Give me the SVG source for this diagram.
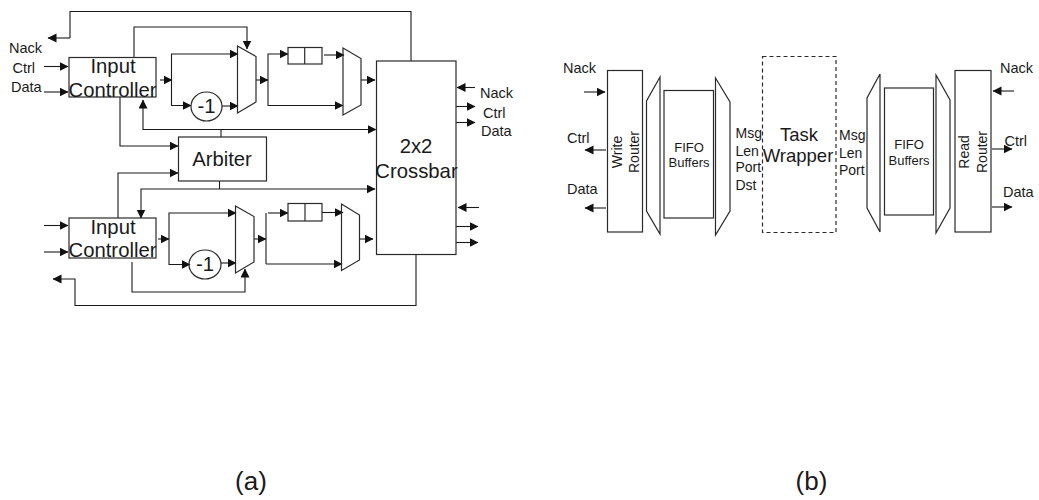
<svg xmlns="http://www.w3.org/2000/svg" width="1039" height="500" viewBox="0 0 1039 500">
<style>
text{font-family:"Liberation Sans",Arial,sans-serif;fill:#1a1a1a}
.s{font-size:14.5px}.m{font-size:14px}.f{font-size:13px;text-anchor:middle}.l{font-size:20.300px;text-anchor:middle}.w{font-size:18.500px;text-anchor:middle}.c{font-size:26px;text-anchor:middle}
.b{fill:none;stroke:#2a2a2a;stroke-width:1.2}
#connectors path{fill:none;stroke:#1a1a1a;stroke-width:1.1}
.a{marker-end:url(#arr)}
</style>
<defs><marker id="arr" markerUnits="userSpaceOnUse" markerWidth="10" markerHeight="10" refX="8.500" refY="4.500" orient="auto"><path d="M0,0L9,4.500L0,9Z" fill="#111"/></marker></defs>
<g id="connectors">
<path d="M70,38V11.500H411V61"/>
<path class="a" d="M70,38H48"/>
<path class="a" d="M134,57V27H247V49"/>
<path class="a" d="M44,66.500H68"/>
<path class="a" d="M44,92H68"/>
<path class="a" d="M160,80H172"/>
<path class="a" d="M171.500,80V54H238"/>
<path class="a" d="M171.500,80V105.500H191"/>
<path class="a" d="M222,106H238"/>
<path class="a" d="M256,80H268"/>
<path class="a" d="M268,80V54H288"/>
<path class="a" d="M268,80V105.500H343"/>
<path class="a" d="M324,55H344"/>
<path class="a" d="M361,80H375"/>
<path class="a" d="M475,87.500H457"/>
<path class="a" d="M456,106.500H475"/>
<path class="a" d="M456,122.500H475"/>
<path class="a" d="M221,129.500H143V100"/>
<path class="a" d="M221,129.500H376"/>
<path d="M221,129.500V137"/>
<path class="a" d="M120,97V146H178"/>
<path class="a" d="M118,218V173H178"/>
<path d="M219.500,181V189"/>
<path class="a" d="M219.500,189H141V218"/>
<path class="a" d="M219.500,189H375"/>
<path class="a" d="M44,225.500H68"/>
<path class="a" d="M44,252H68"/>
<path class="a" d="M158,239H169"/>
<path class="a" d="M169,239V213H236"/>
<path class="a" d="M169,239V264.500H190"/>
<path class="a" d="M221,263H236"/>
<path class="a" d="M132,262V292H245V269"/>
<path class="a" d="M416,254.500V305.500H75V279H53"/>
<path class="a" d="M254,239H266"/>
<path d="M266,213V264"/>
<path class="a" d="M268,213H288"/>
<path class="a" d="M266,264H342"/>
<path class="a" d="M322,212.500H343"/>
<path class="a" d="M359,239H373"/>
<path class="a" d="M479,207.500H458"/>
<path class="a" d="M456,226.500H478"/>
<path class="a" d="M456,242.500H478"/>
<path class="a" d="M584,92H605"/>
<path class="a" d="M606,150H585"/>
<path class="a" d="M606,208H585"/>
<path class="a" d="M1014,91H993"/>
<path class="a" d="M992,149H1012"/>
<path class="a" d="M992,207H1012"/>
</g>
<g id="labels-a">
<text class="s" x="9" y="52.500">Nack</text><text class="s" x="12.500" y="73">Ctrl</text><text class="s" x="11" y="92">Data</text>
<text class="s" x="480" y="97.500">Nack</text><text class="s" x="483" y="118">Ctrl</text><text class="s" x="481" y="135.500">Data</text>
<text class="c" x="251" y="490">(a)</text><text class="c" x="811.500" y="490">(b)</text>
</g>
<g id="input-controller-1"><rect class="b" x="69" y="57.500" width="87" height="39.500"/><text class="l" x="113" y="73">Input</text><text class="l" x="112.500" y="97">Controller</text></g>
<g id="decrement-1"><ellipse class="b" cx="206.500" cy="106.500" rx="15.500" ry="14.500"/><text class="l" x="206.500" y="113">-1</text></g>
<g id="mux-1"><polygon class="b" points="237.500,46 256,56.500 256,102 237.500,113"/></g>
<g id="queue-1"><rect class="b" x="288" y="47.500" width="34" height="16.500"/><path class="b" d="M304.700,47.500V64"/></g>
<g id="mux-2"><polygon class="b" points="343,48 361,58.500 361,105 343,115"/></g>
<g id="crossbar"><rect class="b" x="376.500" y="61" width="79.500" height="193.500"/><text class="l" x="416" y="153">2x2</text><text class="l" x="416.500" y="178">Crossbar</text></g>
<g id="arbiter"><rect class="b" x="178.500" y="137" width="88" height="44"/><text class="l" x="222" y="166">Arbiter</text></g>
<g id="input-controller-2"><rect class="b" x="69" y="218" width="87" height="40"/><text class="l" x="113" y="234">Input</text><text class="l" x="112.500" y="257">Controller</text></g>
<g id="decrement-2"><ellipse class="b" cx="205" cy="264.500" rx="16" ry="14.500"/><text class="l" x="205" y="271">-1</text></g>
<g id="mux-3"><polygon class="b" points="235.500,206 254,216.500 254,262 235.500,273"/></g>
<g id="queue-2"><rect class="b" x="288" y="203.500" width="34" height="17.500"/><path class="b" d="M305,203.500V221"/></g>
<g id="mux-4"><polygon class="b" points="341.500,204 359.500,215 359.500,260 341.500,270.500"/></g>
<g id="write-router"><rect class="b" x="607.500" y="70.500" width="35" height="161.500"/><text class="m" text-anchor="middle" transform="translate(621.500,152) rotate(-90)">Write</text><text class="m" text-anchor="middle" transform="translate(639,152) rotate(-90)">Router</text></g>
<g id="mux-5"><polygon class="b" points="660,77 646.500,101 646.500,211 660,234"/></g>
<g id="fifo-1"><rect class="b" x="664" y="90.500" width="49.500" height="127.500"/><text class="f" x="689" y="152">FIFO</text><text class="f" x="689" y="167">Buffers</text></g>
<g id="mux-6"><polygon class="b" points="715.500,78 730,102 730,211 715.500,235"/></g>
<g id="task-wrapper"><rect class="b" x="762.500" y="56.500" width="73.500" height="176" stroke-dasharray="4 3"/><text class="w" x="799" y="141">Task</text><text class="w" x="798" y="161.500">Wrapper</text></g>
<g id="mux-7"><polygon class="b" points="880,74 867,98 867,208 880,232"/></g>
<g id="fifo-2"><rect class="b" x="884.500" y="88" width="49" height="127"/><text class="f" x="909" y="149">FIFO</text><text class="f" x="909" y="164.500">Buffers</text></g>
<g id="mux-8"><polygon class="b" points="936,75 950,100 950,208 936,233"/></g>
<g id="read-router"><rect class="b" x="955" y="70.500" width="36" height="161.500"/><text class="m" text-anchor="middle" transform="translate(969,152) rotate(-90)">Read</text><text class="m" text-anchor="middle" transform="translate(987,152) rotate(-90)">Router</text></g>
<g id="labels-b">
<text class="s" x="563" y="73">Nack</text><text class="s" x="567" y="143">Ctrl</text><text class="s" x="567" y="194">Data</text>
<text class="m" x="735.500" y="138">Msg</text><text class="m" x="735.500" y="156">Len</text><text class="m" x="735.500" y="172">Port</text><text class="m" x="735.500" y="190">Dst</text>
<text class="m" x="839" y="140">Msg</text><text class="m" x="839" y="158">Len</text><text class="m" x="839" y="175">Port</text>
<text class="s" x="1000" y="73">Nack</text><text class="s" x="1004.500" y="146">Ctrl</text><text class="s" x="1003" y="197">Data</text>
</g>
</svg>
